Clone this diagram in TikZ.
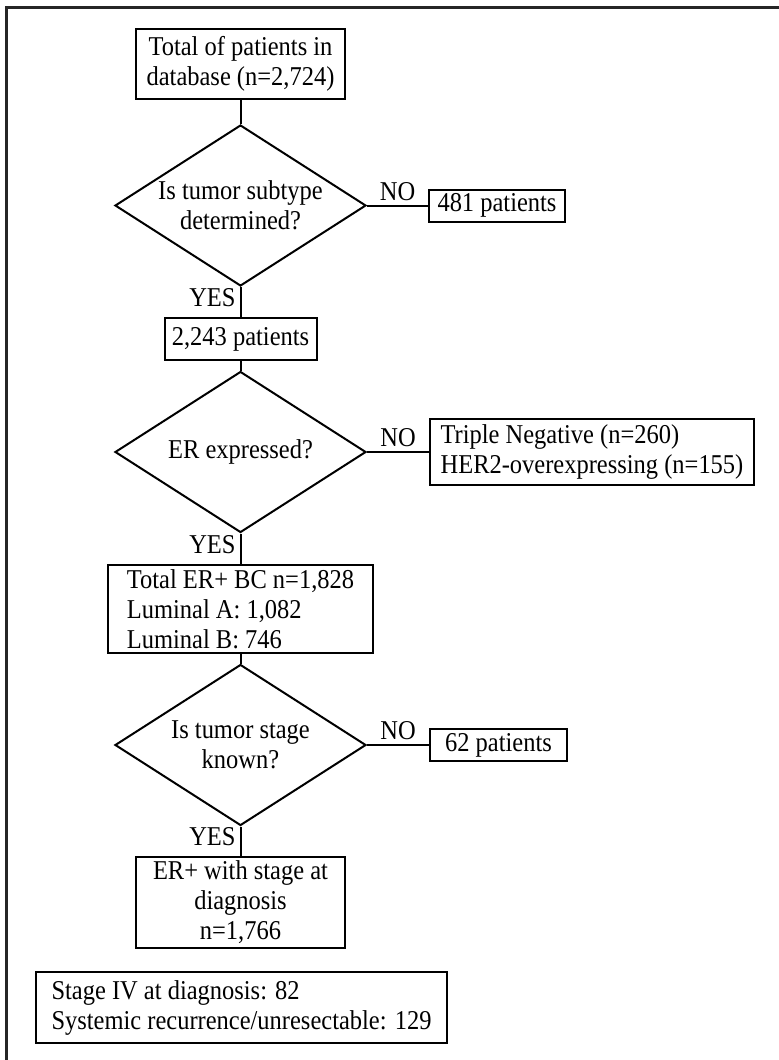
\documentclass[tikz,border=0pt]{standalone}
\usepackage{fontspec}
\setmainfont{Liberation Serif}[FakeStretch=0.9]
\usetikzlibrary{shapes.geometric}

\begin{document}
\begin{tikzpicture}[x=0.5pt,y=-0.5pt,
		font=\fontsize{13.6pt}{15pt}\selectfont,
		box/.style={draw,line width=1pt,inner sep=0pt},
		question/.style={draw,line width=1pt,diamond,aspect=1.56,inner sep=-1pt,align=center,
			minimum width=125.5pt,minimum height=80.5pt},
		link/.style={line width=1pt},
		answer/.style={inner sep=2pt}]
		\useasboundingbox (0,0) rectangle (779,1060);
		\draw [line width=1.5pt,black!85] (779,7) -- (6,7) -- (6,1060);
		\node[box,align=center,minimum width=104.5pt,minimum height=35pt](total) at (240.5,64) {Total of patients in\\database (n=2,724)};
		\node[question](subtype) at (240.5,205.5) {Is tumor subtype\\determined?};
		\node[box,minimum width=68pt,minimum height=16pt](n481) at (497,205.5) {481 patients};
		\node[box,minimum width=76pt,minimum height=21pt](n2243) at (240.5,339) {2,243 patients};
		\node[question](er) at (240.5,452) {ER expressed?};
		\node[box,align=left,minimum width=162pt,minimum height=33pt](neg) at (592,452) {Triple Negative (n=260)\\HER2-overexpressing (n=155)};
		\node[box,align=left,minimum width=132.5pt,minimum height=44pt](erpos) at (240.5,609) {Total ER+ BC n=1,828\\Luminal A: 1,082\\Luminal B: 746};
		\node[question](stage) at (240.5,745) {Is tumor stage\\known?};
		\node[box,minimum width=68.5pt,minimum height=16pt](n62) at (498.5,745) {62 patients};
		\node[box,align=center,minimum width=104.5pt,minimum height=45.5pt](erstage) at (240.5,902.5) {ER+ with stage at\\diagnosis\\n=1,766};
		\node[box,align=left,minimum width=205.5pt,minimum height=35.5pt](stageiv) at (241.5,1007.5) {Stage IV at diagnosis: 82\\Systemic recurrence/unresectable: 129};
		\draw [link] (total) -- (subtype);
		\draw [link] (subtype) -- node[answer,above]{NO} (n481);
		\draw [link] (subtype) -- node[answer,left,pos=0.35]{YES} (n2243);
		\draw [link] (n2243) -- (er);
		\draw [link] (er) -- node[answer,above]{NO} (neg);
		\draw [link] (er) -- node[answer,left,pos=0.38]{YES} (erpos);
		\draw [link] (erpos) -- (stage);
		\draw [link] (stage) -- node[answer,above]{NO} (n62);
		\draw [link] (stage) -- node[answer,left,pos=0.35]{YES} (erstage);
	\end{tikzpicture}
\end{document}
